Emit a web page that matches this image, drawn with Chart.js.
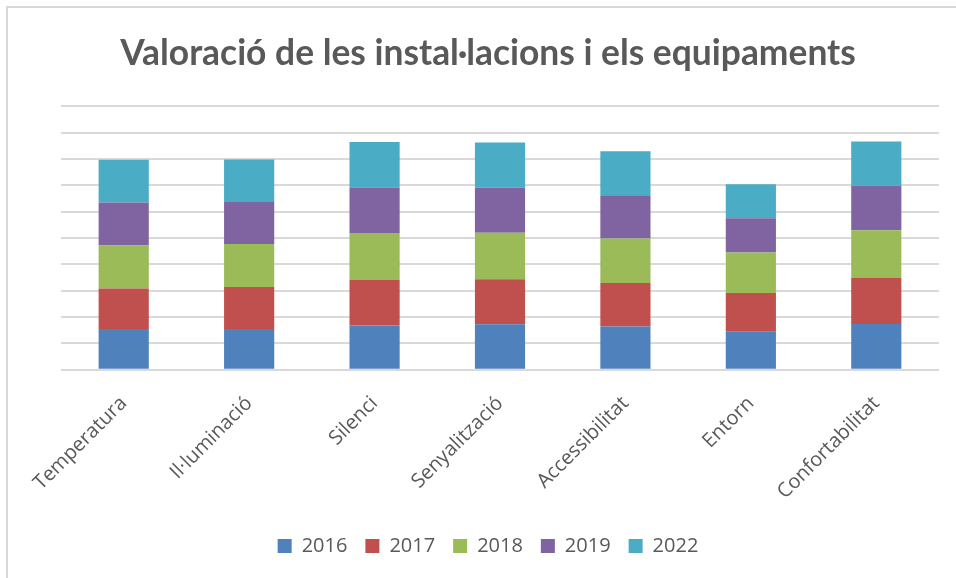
<!DOCTYPE html>
<html>
<head>
    <meta charset="utf-8">
    <title>Valoració de les instal·lacions i els equipaments</title>
    <script src="https://cdn.jsdelivr.net/npm/chart.js"></script>
    <style>
        body { margin: 0; background: #fff; }
        #frame { position: absolute; left: 6px; top: 6px; width: 950px; height: 572px;
                 border-top: 2px solid #d9d9d9; border-left: 2px solid #d9d9d9; box-sizing: border-box; }
        #myChart { position: absolute; left: 0; top: 0; }
    </style>
</head>
<body>
    <div id="frame"></div>
    <canvas id="myChart" width="956" height="578"></canvas>
    <script>
        var categories = ['Temperatura', 'Il·luminació', 'Silenci', 'Senyalització', 'Accessibilitat', 'Entorn', 'Confortabilitat'];
        var years = ['2016', '2017', '2018', '2019', '2022'];

        // values, one gridline = 1 unit
        var v2016 = [1.55, 1.55, 1.68, 1.73, 1.64, 1.44, 1.74];
        var v2017 = [1.53, 1.59, 1.73, 1.71, 1.65, 1.47, 1.74];
        var v2018 = [1.64, 1.64, 1.78, 1.76, 1.69, 1.54, 1.82];
        var v2019 = [1.63, 1.62, 1.73, 1.71, 1.65, 1.30, 1.69];
        var v2022 = [1.63, 1.59, 1.73, 1.72, 1.67, 1.30, 1.68];

        var colors = ['#4f81bd', '#c0504d', '#9bbb59', '#8064a2', '#4bacc6'];
        var series = [v2016, v2017, v2018, v2019, v2022];

        var ctx = document.getElementById('myChart').getContext('2d');
        var myChart = new Chart(ctx, {
            type: 'bar',
            data: {
                labels: categories,
                datasets: years.map((y, i) => ({
                    label: y,
                    data: series[i],
                    backgroundColor: colors[i],
                    borderWidth: 0,
                    categoryPercentage: 1,
                    barPercentage: 0.4
                }))
            },
            options: {
                responsive: false,
                animation: false,
                layout: { padding: { left: 37, right: 17, top: 0, bottom: 12 } },
                plugins: {
                    title: {
                        display: true,
                        text: 'Valoració de les instal·lacions i els equipaments',
                        color: '#595959',
                        font: { family: 'Lato', size: 35.4, weight: 'bold' },
                        padding: { top: 32, bottom: 32 }
                    },
                    legend: {
                        position: 'bottom',
                        labels: {
                            color: '#595959',
                            boxWidth: 14,
                            boxHeight: 14,
                            padding: 18,
                            font: { family: 'Open Sans', size: 20 }
                        }
                    },
                    tooltip: { enabled: false }
                },
                scales: {
                    x: {
                        stacked: true,
                        grid: { display: false },
                        border: { display: false },
                        ticks: {
                            color: '#595959',
                            font: { family: 'Open Sans', size: 20 },
                            minRotation: 45,
                            maxRotation: 45,
                            padding: 14
                        }
                    },
                    y: {
                        stacked: true,
                        min: 0,
                        max: 10,
                        afterFit: function (scale) { scale.width = 24; },
                        ticks: { display: false, stepSize: 1 },
                        grid: { color: '#d9d9d9', lineWidth: 2, drawTicks: false },
                        border: { display: false }
                    }
                }
            }
        });
    </script>
</body>
</html>
